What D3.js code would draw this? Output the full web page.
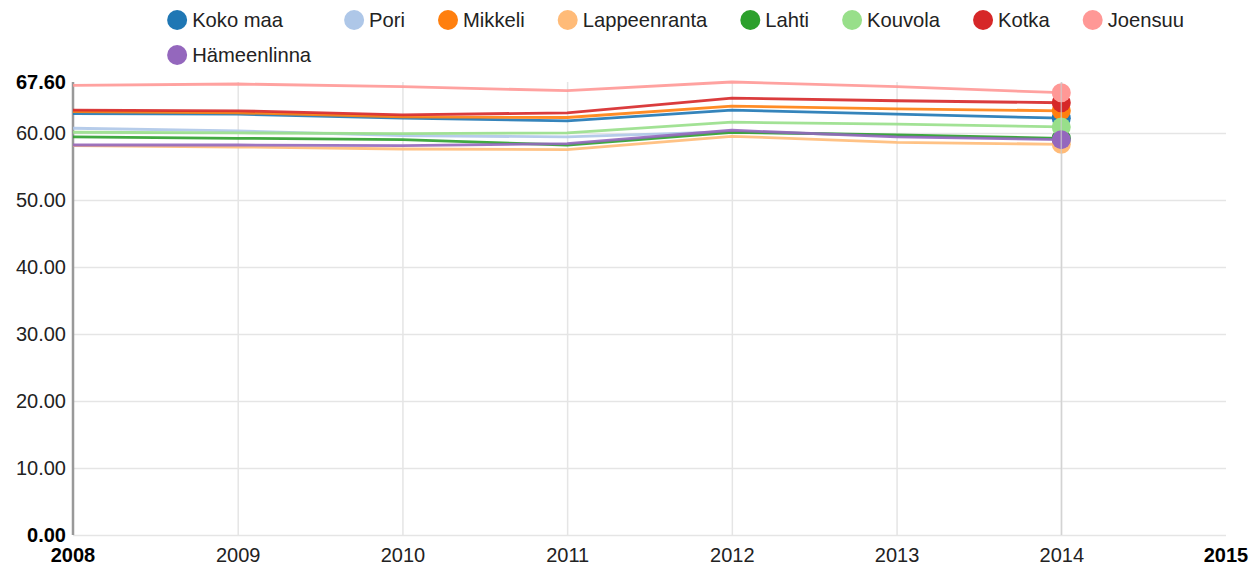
<!DOCTYPE html>
<html>
<head>
<meta charset="utf-8">
<script src="https://cdnjs.cloudflare.com/ajax/libs/d3/7.8.5/d3.min.js"></script>
<style>
  html, body { margin: 0; padding: 0; background: #fff; }
  svg { display: block; font-family: "Liberation Sans", Arial, sans-serif; }
  .grid line { stroke: #e5e5e5; stroke-width: 1.5; }
  .grid .domain { display: none; }
  .tick text { fill: #222; font-size: 20px; }
</style>
</head>
<body>
<svg id="chart" width="1255" height="568"></svg>
<script>
// Years on the x axis
const years = [2008, 2009, 2010, 2011, 2012, 2013, 2014];

// Series, in legend order
const seriesNames = ["Koko maa", "Pori", "Mikkeli", "Lappeenranta", "Lahti",
                     "Kouvola", "Kotka", "Joensuu", "Hämeenlinna"];
const seriesColors = ["#1f77b4", "#aec7e8", "#ff7f0e", "#ffbb78", "#2ca02c",
                      "#98df8a", "#d62728", "#ff9896", "#9467bd"];

const kokoMaa      = [62.9, 62.8, 62.2, 61.8, 63.4, 62.8, 62.2];
const pori         = [60.7, 60.3, 59.6, 59.4, 60.2, 59.6, 59.1];
const mikkeli      = [63.2, 63.0, 62.4, 62.3, 64.0, 63.6, 63.3];
const lappeenranta = [58.1, 57.9, 57.6, 57.5, 59.5, 58.6, 58.3];
const lahti        = [59.4, 59.2, 59.0, 58.2, 60.1, 59.7, 59.2];
const kouvola      = [60.1, 60.0, 59.9, 60.0, 61.6, 61.3, 60.9];
const kotka        = [63.4, 63.3, 62.7, 63.0, 65.2, 64.8, 64.5];
const joensuu      = [67.1, 67.3, 66.9, 66.3, 67.6, 66.9, 66.0];
const hameenlinna  = [58.2, 58.2, 58.1, 58.4, 60.4, 59.4, 59.0];

const seriesValues = [kokoMaa, pori, mikkeli, lappeenranta, lahti,
                      kouvola, kotka, joensuu, hameenlinna];

// Axis settings
const xDomain = [2008, 2015];
const yTicks = [10, 20, 30, 40, 50, 60];

const series = seriesNames.map((name, i) => ({
  name, color: seriesColors[i],
  values: years.map((yr, j) => ({ x: yr, y: seriesValues[i][j] }))
}));
const yMax = d3.max(series, s => d3.max(s.values, d => d.y));

const svg = d3.select("#chart");
const plotLeft = 73, plotRight = 1226, plotTop = 82, plotBottom = 535;

const x = d3.scaleLinear().domain(xDomain).range([plotLeft, plotRight]);
const y = d3.scaleLinear().domain([0, yMax]).range([plotBottom, plotTop]);
const fmt = d3.format(".2f");

// Horizontal grid and y tick labels
const yAxis = svg.append("g").attr("class", "grid")
  .attr("transform", `translate(${plotLeft},0)`)
  .call(d3.axisLeft(y).tickValues([0].concat(yTicks)).tickSize(-(plotRight - plotLeft))
        .tickPadding(7).tickFormat(fmt));
yAxis.selectAll(".tick").filter(d => d === 0).select("text").remove();
yAxis.selectAll(".tick text").attr("dy", "0.34em");

// Vertical grid and x tick labels
const xAxis = svg.append("g").attr("class", "grid")
  .attr("transform", `translate(0,${plotBottom})`)
  .call(d3.axisBottom(x).tickValues(years.slice(1)).tickSize(-(plotBottom - plotTop))
        .tickPadding(0).tickFormat(d3.format("d")));
xAxis.selectAll(".tick text").attr("y", 13).attr("dy", "0.71em");

// Bold extreme labels
const axisFont = "20px";
[0, yMax].forEach(v => {
  svg.append("text").attr("x", plotLeft - 7).attr("y", y(v)).attr("dy", "0.34em")
    .attr("text-anchor", "end").attr("font-size", axisFont).attr("font-weight", "bold")
    .attr("fill", "#000").text(fmt(v));
});
xDomain.forEach(v => {
  svg.append("text").attr("x", x(v)).attr("y", plotBottom + 13).attr("dy", "0.71em")
    .attr("text-anchor", "middle")
    .attr("font-size", axisFont).attr("font-weight", "bold").attr("fill", "#000")
    .text(d3.format("d")(v));
});

// Y axis line
svg.append("line").attr("x1", plotLeft).attr("x2", plotLeft)
  .attr("y1", plotTop).attr("y2", plotBottom)
  .attr("stroke", "#999").attr("stroke-width", 2.5);

// Lines
const line = d3.line().x(d => x(d.x)).y(d => y(d.y));
svg.append("g").selectAll("path").data(series).join("path")
  .attr("d", s => line(s.values))
  .attr("fill", "none").attr("stroke", s => s.color)
  .attr("stroke-width", 2.8).attr("stroke-opacity", 0.9)
  .attr("stroke-linejoin", "round");

// End points on the last year
svg.append("g").selectAll("circle").data(series).join("circle")
  .attr("cx", s => x(s.values[s.values.length - 1].x))
  .attr("cy", s => y(s.values[s.values.length - 1].y))
  .attr("r", 9.5).attr("fill", s => s.color);

// Guide line through the last year
const lastYear = years[years.length - 1];
svg.append("line").attr("x1", x(lastYear)).attr("x2", x(lastYear))
  .attr("y1", plotTop).attr("y2", plotBottom)
  .attr("stroke", "#ccc").attr("stroke-width", 1.5).attr("stroke-opacity", 0.7);

// Legend: columns sized to their widest label, right aligned
const perRow = 8, circleR = 10, textOffset = 15, gap = 33, rowH = 35, firstRowY = 20;
const legend = svg.append("g");
const items = legend.selectAll("g").data(series).join("g");
items.append("circle").attr("r", circleR).attr("fill", s => s.color);
items.append("text").attr("x", textOffset).attr("dy", "0.34em")
  .attr("font-size", "20.2px").attr("fill", "#222").text(s => s.name);
const widths = [];
items.select("text").each(function (s, i) {
  const c = i % perRow;
  widths[c] = Math.max(widths[c] || 0, this.getComputedTextLength());
});
const colX = [];
let acc = 0;
widths.forEach((w, c) => { colX[c] = acc; acc += circleR + textOffset + w + gap; });
const legendRight = plotRight - 42;
const startX = legendRight - (acc - gap) + circleR;
items.attr("transform", (s, i) =>
  `translate(${startX + colX[i % perRow]},${firstRowY + Math.floor(i / perRow) * rowH})`);
</script>
</body>
</html>
